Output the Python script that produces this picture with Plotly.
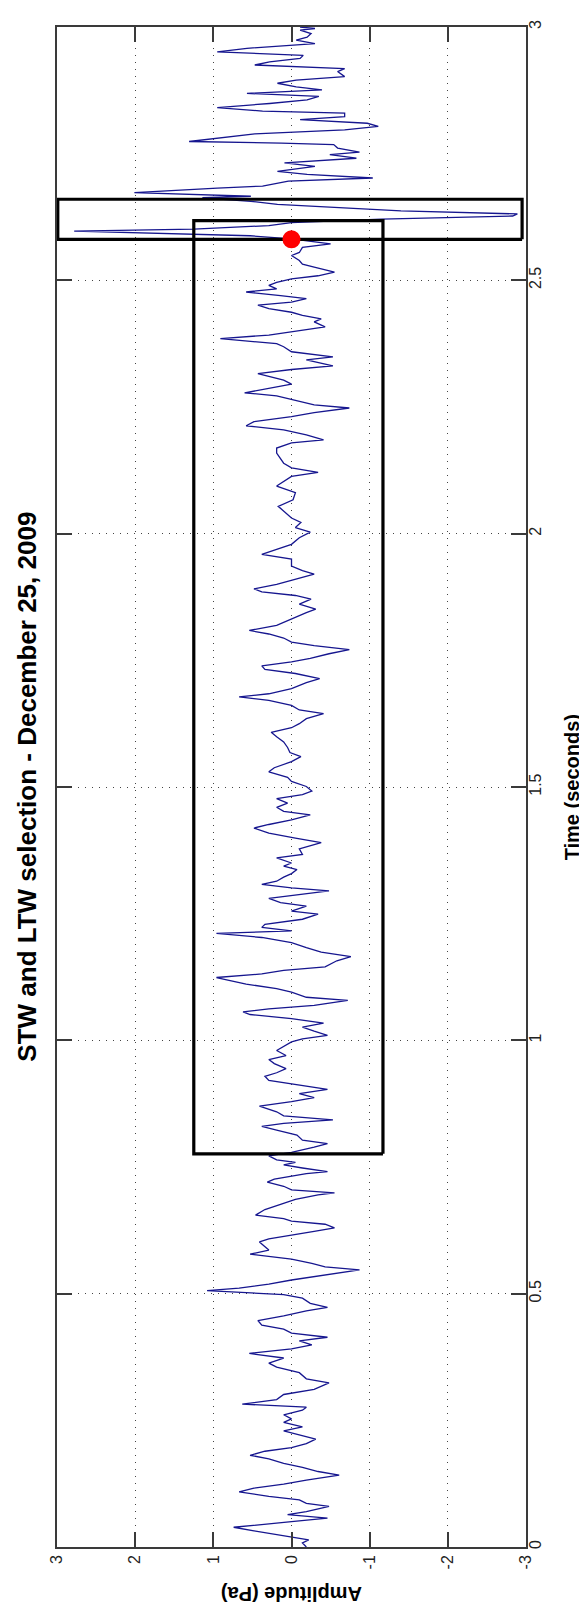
import plotly.graph_objects as go

# ---------------- data ----------------
time_s = [
    0.000, 0.008, 0.014, 0.024, 0.032, 0.039, 0.045, 0.050, 0.057, 0.064, 0.070, 0.080, 0.086, 0.093,
    0.100, 0.109, 0.116, 0.124, 0.132, 0.142, 0.149, 0.157, 0.165, 0.174, 0.181, 0.189, 0.196, 0.204,
    0.213, 0.221, 0.229, 0.237, 0.246, 0.253, 0.261, 0.270,
    0.276, 0.282, 0.291, 0.301, 0.311, 0.324, 0.332, 0.344, 0.355, 0.363, 0.373, 0.382, 0.391, 0.399,
    0.407, 0.414, 0.422, 0.430, 0.438, 0.447, 0.456, 0.466, 0.473, 0.481, 0.491, 0.498, 0.502, 0.506,
    0.511, 0.519, 0.527, 0.535, 0.542, 0.547, 0.553, 0.560, 0.568, 0.574, 0.578, 0.586, 0.593, 0.602,
    0.608, 0.615, 0.623, 0.630, 0.637, 0.643, 0.648, 0.655, 0.666, 0.676, 0.686, 0.695, 0.699, 0.705,
    0.712, 0.720, 0.726, 0.737, 0.741, 0.748, 0.754, 0.759, 0.764,
    0.772, 0.779, 0.789, 0.796, 0.803, 0.813, 0.823, 0.830, 0.836, 0.843, 0.851, 0.859, 0.870, 0.879,
    0.887, 0.895, 0.903, 0.912, 0.921, 0.929, 0.936, 0.944, 0.954, 0.962, 0.970, 0.980, 0.990, 0.997,
    1.003, 1.010, 1.018, 1.026, 1.034, 1.043, 1.051, 1.056, 1.062, 1.069, 1.079, 1.085, 1.095, 1.102,
    1.111, 1.124, 1.131, 1.138, 1.145, 1.157, 1.165, 1.174, 1.183, 1.193, 1.203, 1.211, 1.216, 1.223,
    1.229, 1.239, 1.249, 1.255, 1.265, 1.272, 1.280, 1.288, 1.295, 1.301, 1.308, 1.314, 1.322, 1.329,
    1.337, 1.344, 1.350,
    1.360, 1.367, 1.378, 1.390, 1.399, 1.409, 1.419, 1.426, 1.435, 1.445, 1.452, 1.460, 1.468, 1.477,
    1.485, 1.492, 1.501, 1.511, 1.519, 1.530, 1.538, 1.550, 1.560, 1.568, 1.578, 1.589, 1.599, 1.608,
    1.617, 1.625, 1.635, 1.645, 1.652, 1.661, 1.671, 1.678, 1.684, 1.694, 1.706, 1.714, 1.724, 1.732,
    1.739, 1.747, 1.754, 1.763, 1.771, 1.779, 1.786, 1.794, 1.802, 1.809, 1.819, 1.832, 1.844, 1.851,
    1.861, 1.871, 1.878, 1.885, 1.891, 1.900, 1.910, 1.920, 1.927, 1.936,
    1.950, 1.959, 1.969, 1.979, 1.992, 2.003, 2.012, 2.022, 2.031, 2.045, 2.054, 2.067, 2.081, 2.094,
    2.103, 2.113, 2.121, 2.130, 2.139, 2.149, 2.159, 2.169, 2.179, 2.185, 2.195, 2.205, 2.213, 2.221,
    2.231, 2.239, 2.248, 2.254, 2.264, 2.272, 2.278, 2.287, 2.295, 2.303, 2.310, 2.316, 2.324, 2.331,
    2.343, 2.349, 2.359, 2.369, 2.375, 2.385, 2.392, 2.398, 2.408, 2.418, 2.424, 2.431, 2.437, 2.444,
    2.451, 2.457, 2.464, 2.470, 2.477, 2.483, 2.490, 2.496, 2.503, 2.509, 2.516, 2.526, 2.532, 2.539,
    2.549, 2.555, 2.565, 2.572, 2.578, 2.582, 2.588, 2.597, 2.601, 2.608, 2.614, 2.621, 2.627,
    2.631, 2.637, 2.643, 2.650, 2.656, 2.663, 2.666, 2.673, 2.682, 2.686, 2.696, 2.702, 2.709, 2.715,
    2.725, 2.732, 2.741, 2.748, 2.753, 2.761, 2.768, 2.771, 2.774, 2.781, 2.789, 2.797, 2.804, 2.810,
    2.817, 2.823, 2.830, 2.834, 2.841, 2.849, 2.856, 2.863, 2.869, 2.876, 2.882, 2.889, 2.895, 2.902,
    2.912, 2.918, 2.925, 2.931, 2.938, 2.944, 2.951, 2.958, 2.964, 2.967, 2.974, 2.980, 2.987, 2.994,
    2.997, 3.000,
]

amplitude_pa = [
    -0.19, -0.14, -0.22, 0.19, 0.48, 0.74, 0.29, 0.00, -0.46, 0.05, -0.19, -0.48, -0.19, -0.10,
    0.29, 0.67, 0.48, 0.10, -0.19, -0.61, -0.34, -0.14, 0.10, 0.29, 0.53, 0.34, 0.00, -0.19,
    -0.31, -0.10, 0.10, -0.14, 0.10, 0.00, 0.10, -0.14,
    -0.19, 0.63, 0.19, 0.10, -0.29, -0.48, -0.19, -0.10, 0.19, 0.29, 0.10, 0.54, 0.00, -0.26,
    -0.10, -0.46, 0.00, 0.10, 0.38, 0.43, 0.10, -0.19, -0.46, -0.24, -0.14, 0.10, 0.67, 1.08,
    0.67, 0.29, 0.00, -0.34, -0.70, -0.87, -0.43, -0.26, 0.00, 0.34, 0.53, 0.29, 0.34, 0.41,
    0.29, 0.00, -0.29, -0.55, -0.43, 0.00, 0.10, 0.46, 0.34, 0.14, -0.05, -0.34, -0.55, 0.00,
    0.10, 0.31, 0.22, -0.19, -0.46, -0.14, 0.10, -0.05, 0.19,
    0.29, 0.00, -0.29, -0.46, -0.14, -0.07, 0.19, 0.38, 0.10, -0.53, 0.10, 0.19, 0.41, 0.00,
    -0.29, -0.10, -0.46, -0.10, 0.29, 0.34, 0.19, 0.07, 0.22, 0.29, 0.07, 0.19, 0.07, 0.00,
    -0.14, -0.46, -0.29, -0.14, -0.41, 0.00, 0.53, 0.62, 0.29, -0.29, -0.72, -0.19, 0.00, 0.19,
    0.58, 0.96, 0.38, 0.10, -0.43, -0.58, -0.76, -0.38, -0.19, 0.00, 0.38, 0.96, 0.00, 0.38,
    0.34, -0.14, -0.34, 0.00, -0.19, 0.14, 0.29, -0.10, -0.48, 0.00, 0.38, 0.19, 0.10, 0.00,
    -0.07, 0.10, 0.00,
    0.19, -0.14, -0.10, -0.38, -0.05, 0.29, 0.48, 0.29, 0.00, -0.24, 0.10, 0.19, 0.05, 0.19,
    -0.14, -0.26, -0.19, 0.00, 0.05, 0.29, 0.22, 0.00, -0.12, 0.02, 0.05, 0.10, 0.19, 0.26,
    0.00, -0.10, -0.19, -0.41, -0.10, 0.00, 0.29, 0.67, 0.29, 0.00, -0.19, -0.36, -0.05, 0.34,
    0.38, 0.00, -0.24, -0.48, -0.74, -0.29, 0.00, 0.10, 0.29, 0.54, 0.19, 0.00, -0.19, -0.31,
    -0.10, -0.25, -0.05, 0.38, 0.48, 0.19, -0.05, -0.29, -0.14, 0.00,
    0.00, 0.38, 0.19, 0.00, -0.10, -0.24, -0.05, -0.12, 0.00, 0.10, 0.17, -0.02, -0.05, 0.19,
    0.10, 0.00, -0.34, 0.00, 0.10, 0.14, 0.19, 0.19, 0.00, -0.41, -0.19, 0.10, 0.58, 0.48,
    0.00, -0.29, -0.74, -0.29, 0.00, 0.19, 0.60, 0.29, 0.00, 0.10, 0.29, 0.43, 0.00, -0.53,
    -0.19, -0.53, 0.00, 0.10, 0.19, 0.91, 0.29, 0.00, -0.43, -0.29, -0.38, -0.14, 0.00, 0.29,
    0.43, 0.00, -0.19, 0.14, 0.58, 0.19, 0.29, 0.19, 0.00, -0.34, -0.55, -0.29, -0.14, -0.10,
    0.00, -0.10, -0.14, -0.50, -0.19, 0.00, 0.53, 2.78, 1.25, 0.29, 0.00, -1.15, -2.83,
    -2.89, -1.40, -0.68, 0.18, 0.52, 1.14, 0.52, 2.01, 0.95, 0.37, 0.04, -1.04, -0.20, 0.18,
    -0.30, 0.09, -0.83, -0.49, -0.87, -0.59, -0.54, 0.13, 1.31, 0.95, 0.47, -0.68, -1.11, -0.97,
    -0.11, -0.68, -0.68, 0.37, 0.95, 0.28, -0.20, -0.35, 0.57, -0.39, -0.06, 0.18, -0.06, -0.68,
    -0.59, -0.68, 0.47, 0.28, -0.11, -0.15, 0.95, 0.57, -0.01, -0.30, -0.06, -0.20, -0.25, -0.11,
    -0.30, -0.11,
]

# analysis windows (time range in s, amplitude range in Pa)
ltw_time = [0.776, 2.618]
ltw_amp = [-1.17, 1.25]
stw_time = [2.581, 2.660]
stw_amp = [-2.95, 2.99]

# detected onset point
onset_time = [2.581]
onset_amp = [0.0]

amp_ticks = [3, 2, 1, 0, -1, -2, -3]
amp_ticktext = ["3", "2", "1", "0", "-1", "-2", "-3"]
time_ticks = [0, 0.5, 1, 1.5, 2, 2.5, 3]
time_ticktext = ["0", "0.5", "1", "1.5", "2", "2.5", "3"]

title_text = "STW and LTW selection - December 25, 2009"
xlabel_text = "Time (seconds)"
ylabel_text = "Amplitude (Pa)"

# ---------------- figure ----------------
fig = go.Figure()

fig.add_trace(go.Scatter(
    x=amplitude_pa, y=time_s, mode="lines",
    line=dict(color="#16168f", width=1.3),
    hoverinfo="skip", showlegend=False,
))


def box_path(tr, ar):
    xs = [ar[0], ar[1], ar[1], ar[0], ar[0]]
    ys = [tr[0], tr[0], tr[1], tr[1], tr[0]]
    return xs, ys


for tr, ar in ((ltw_time, ltw_amp), (stw_time, stw_amp)):
    bx, by = box_path(tr, ar)
    fig.add_trace(go.Scatter(
        x=bx, y=by, mode="lines",
        line=dict(color="black", width=3.2),
        hoverinfo="skip", showlegend=False,
    ))

fig.add_trace(go.Scatter(
    x=onset_amp, y=onset_time, mode="markers",
    marker=dict(color="#ff0000", size=18, line=dict(width=0)),
    hoverinfo="skip", showlegend=False,
))

axis_common = dict(
    showline=True, linecolor="#3a3a3a", linewidth=1.6, mirror="ticks",
    ticks="inside", ticklen=15, tickwidth=1.6, tickcolor="#3a3a3a",
    showgrid=True, gridcolor="#444444", gridwidth=1.4, griddash="1.4px,5.6px",
    zeroline=False,
    tickfont=dict(family="Liberation Sans, Arial, sans-serif", size=16, color="#222222"),
    tickangle=-90,
)

fig.update_xaxes(
    range=[3, -3], tickmode="array", tickvals=amp_ticks, ticktext=amp_ticktext,
    side="bottom", ticklabelstandoff=0, **axis_common,
)
fig.update_yaxes(
    range=[0, 3], tickmode="array", tickvals=time_ticks, ticktext=time_ticktext,
    side="right", ticklabelstandoff=-6, **axis_common,
)

L, R, T, B = 49.3, 517.7, 11.7, 1539.3
W, H = 587, 1606
pw, ph = R - L, B - T

annots = [
    dict(text="<b>" + title_text + "</b>", x=(19 - L) / pw, y=0.5, textangle=-90,
         font=dict(family="Liberation Sans, Arial, sans-serif", size=26, color="#000000")),
    dict(text="<b>" + xlabel_text + "</b>", x=(564 - L) / pw, y=0.5, textangle=-90,
         font=dict(family="Liberation Sans, Arial, sans-serif", size=20, color="#000000")),
    dict(text="<b>" + ylabel_text + "</b>", x=(283 - L) / pw, y=(B - 1586) / ph, textangle=180,
         font=dict(family="Liberation Sans, Arial, sans-serif", size=20, color="#000000")),
]
for a in annots:
    fig.add_annotation(xref="paper", yref="paper", showarrow=False,
                       xanchor="center", yanchor="middle", **a)

fig.update_layout(
    width=W, height=H,
    margin=dict(l=L, r=W - R, t=T, b=H - B, pad=0),
    paper_bgcolor="white", plot_bgcolor="white",
    showlegend=False,
)

fig.write_html("out.html")
